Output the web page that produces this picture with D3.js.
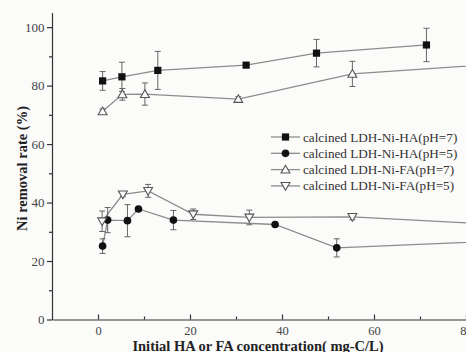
<!DOCTYPE html>
<html>
<head>
<meta charset="utf-8">
<script src="https://cdn.jsdelivr.net/npm/d3@7"></script>
<style>
  html, body { margin: 0; padding: 0; background: #fbfbfa; overflow: hidden; }
  svg { display: block; }
  svg text { font-family: "Liberation Serif", "Times New Roman", Times, "DejaVu Serif", serif; }
</style>
</head>
<body>
<svg id="chart" width="466" height="352"></svg>
<script>
// Ni removal rate vs. initial HA / FA concentration (mg-C/L)
const haPH7X = [1.0, 5.2, 13.0, 32.2, 47.5, 71.4];
const haPH7Y = [81.6, 83.0, 85.2, 87.0, 91.1, 93.9];
const haPH7Err = [3.2, 5.0, 6.5, 0, 4.7, 5.7];

const haPH5X = [1.0, 2.1, 6.4, 8.8, 16.4, 38.5, 51.9, 92];
const haPH5Y = [25.1, 34.0, 33.8, 37.8, 34.0, 32.5, 24.5, 27.2];
const haPH5Err = [2.5, 4.3, 5.5, 0, 3.3, 0, 3.1, 0];

const faPH7X = [1.0, 5.3, 10.2, 30.5, 55.3, 92];
const faPH7Y = [71.2, 77.0, 77.1, 75.4, 84.0, 88.0];
const faPH7Err = [0.8, 2.0, 3.8, 0.8, 4.3, 0];

const faPH5X = [0.9, 5.4, 10.9, 20.7, 32.9, 55.3, 92];
const faPH5Y = [33.6, 42.8, 44.0, 36.0, 34.9, 35.1, 32.1];
const faPH5Err = [3.5, 0.8, 2.2, 1.8, 2.5, 1.0, 0];

const seriesNames = [
  "calcined LDH-Ni-HA(pH=7)",
  "calcined LDH-Ni-HA(pH=5)",
  "calcined LDH-Ni-FA(pH=7)",
  "calcined LDH-Ni-FA(pH=5)"
];
const xTicks = [0, 20, 40, 60, 80];
const xMinor = [10, 30, 50, 70];
const yTicks = [0, 20, 40, 60, 80, 100];
const yMinor = [10, 30, 50, 70, 90];

const svg = d3.select("#chart");
const serif = "Liberation Serif, Times New Roman, Times, DejaVu Serif, serif";

const x = d3.scaleLinear().domain([-10, 80]).range([52, 466]);
const y = d3.scaleLinear().domain([0, 105]).range([319.5, 12.5]);

// axes
const gx = svg.append("g").attr("transform", `translate(0,${y(0)})`)
  .call(d3.axisBottom(x).tickValues(xTicks).tickSize(-5).tickSizeOuter(0).tickPadding(6.5));
svg.append("g").attr("transform", `translate(0,${y(0)})`)
  .call(d3.axisBottom(x).tickValues(xMinor).tickSize(-3).tickSizeOuter(0).tickFormat(""))
  .select(".domain").remove();
const gy = svg.append("g").attr("transform", `translate(${x(-10)},0)`)
  .call(d3.axisLeft(y).tickValues(yTicks).tickSize(5).tickSizeOuter(0).tickPadding(2.5));
svg.append("g").attr("transform", `translate(${x(-10)},0)`)
  .call(d3.axisLeft(y).tickValues(yMinor).tickSize(3).tickSizeOuter(0).tickFormat(""))
  .select(".domain").remove();

svg.selectAll("g").attr("font-family", serif);
svg.selectAll(".domain, .tick line").attr("stroke", "#333").attr("stroke-width", 1.2);
gx.selectAll(".tick text").attr("font-size", 12.5).attr("fill", "#444");
gy.selectAll(".tick text").attr("font-size", 13).attr("fill", "#444");

// axis titles
svg.append("text")
  .attr("x", 258).attr("y", 350.5)
  .attr("text-anchor", "middle")
  .attr("font-family", serif).attr("font-weight", "bold").attr("font-size", 14.5)
  .attr("fill", "#222")
  .text("Initial HA or FA concentration( mg-C/L)");
svg.append("text")
  .attr("transform", "translate(27,168.5) rotate(-90)")
  .attr("text-anchor", "middle")
  .attr("font-family", serif).attr("font-weight", "bold").attr("font-size", 14.5)
  .attr("fill", "#222")
  .text("Ni removal rate (%)");

// marker drawing
const sym = {
  square: d3.symbol().type(d3.symbolSquare).size(52),
  circle: d3.symbol().type(d3.symbolCircle).size(46),
  tri: d3.symbol().type(d3.symbolTriangle).size(34)
};
function drawMarker(g, kind, cx, cy) {
  if (kind === "square") {
    g.append("path").attr("d", sym.square()).attr("transform", `translate(${cx},${cy})`).attr("fill", "#111");
  } else if (kind === "circle") {
    g.append("path").attr("d", sym.circle()).attr("transform", `translate(${cx},${cy})`).attr("fill", "#111");
  } else if (kind === "up") {
    g.append("path").attr("d", sym.tri()).attr("transform", `translate(${cx},${cy + 0.8})`)
      .attr("fill", "#fbfbfa").attr("stroke", "#555").attr("stroke-width", 1.1);
  } else {
    g.append("path").attr("d", sym.tri()).attr("transform", `translate(${cx},${cy - 0.8}) rotate(180)`)
      .attr("fill", "#fbfbfa").attr("stroke", "#555").attr("stroke-width", 1.1);
  }
}

const series = [
  { xs: haPH7X, ys: haPH7Y, err: haPH7Err, kind: "square" },
  { xs: haPH5X, ys: haPH5Y, err: haPH5Err, kind: "circle" },
  { xs: faPH7X, ys: faPH7Y, err: faPH7Err, kind: "up" },
  { xs: faPH5X, ys: faPH5Y, err: faPH5Err, kind: "down" }
];

const line = d3.line().x(d => x(d[0])).y(d => y(d[1]));
const plot = svg.append("g");

// connecting lines
series.forEach(s => {
  const pts = s.xs.map((v, i) => [v, s.ys[i]]);
  plot.append("path").attr("d", line(pts))
    .attr("fill", "none").attr("stroke", "#8c8c8c").attr("stroke-width", 1.3);
});

// error bars
series.forEach(s => {
  s.xs.forEach((v, i) => {
    const e = s.err[i];
    if (!e) return;
    const cx = x(v), t = y(s.ys[i] + e), b = y(s.ys[i] - e);
    const g = plot.append("g").attr("stroke", "#666").attr("stroke-width", 1);
    g.append("line").attr("x1", cx).attr("x2", cx).attr("y1", t).attr("y2", b);
    g.append("line").attr("x1", cx - 3).attr("x2", cx + 3).attr("y1", t).attr("y2", t);
    g.append("line").attr("x1", cx - 3).attr("x2", cx + 3).attr("y1", b).attr("y2", b);
  });
});

// markers
series.forEach(s => {
  s.xs.forEach((v, i) => drawMarker(plot, s.kind, x(v), y(s.ys[i])));
});

// legend
const legend = svg.append("g");
const legendY = [137, 153.3, 169.6, 185.9];
series.forEach((s, i) => {
  const ly = legendY[i];
  legend.append("line").attr("x1", 271).attr("x2", 300).attr("y1", ly).attr("y2", ly)
    .attr("stroke", "#8c8c8c").attr("stroke-width", 1.3);
  drawMarker(legend, s.kind, 285.5, ly);
  legend.append("text").attr("x", 303).attr("y", ly + 4.5)
    .attr("font-family", serif).attr("font-size", 13.2).attr("fill", "#333")
    .text(seriesNames[i]);
});
</script>
</body>
</html>
